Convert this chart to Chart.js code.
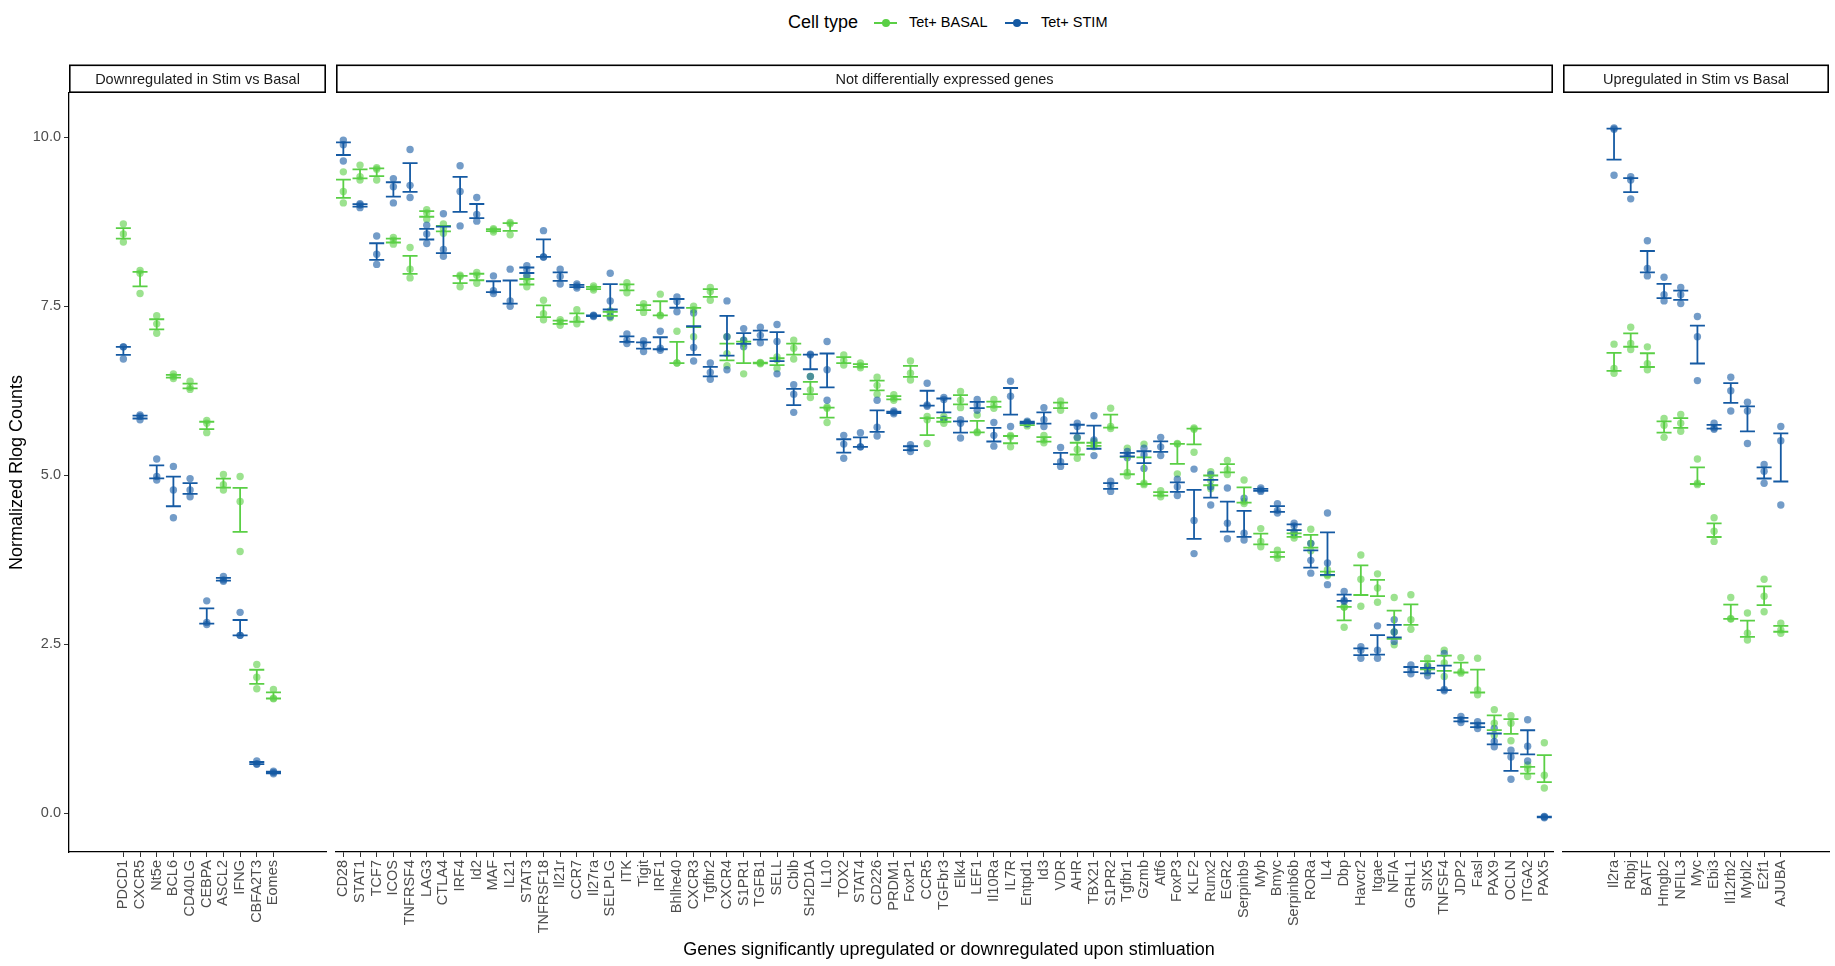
<!DOCTYPE html>
<html>
<head>
<meta charset="utf-8">
<script src="https://cdn.jsdelivr.net/npm/chart.js@4.4.1/dist/chart.umd.min.js"></script>
<style>
  html, body { margin: 0; padding: 0; background: #fff; }
  #fig { position: relative; width: 1835px; height: 966px; overflow: hidden; font-family: 'Liberation Sans', Arial, sans-serif; }
  #fig canvas { position: absolute; top: 0; }
  .lg { position: absolute; top: 10px; height: 25px; line-height: 25px; white-space: nowrap; color: #000; }
  .key { position: absolute; top: 21.5px; width: 23px; height: 2px; }
  .dot { position: absolute; top: 19px; width: 8px; height: 8px; border-radius: 50%; }
  #xtitle { position: absolute; left: 69px; width: 1760px; top: 938px; line-height: 22px; text-align: center; font-size: 18px; color: #000; }
</style>
</head>
<body>
<div id="fig">
  <div class="lg" style="left:788px;font-size:18px">Cell type</div>
  <div class="key" style="left:874px;background:#5ACF45"></div>
  <div class="dot" style="left:882px;background:#5ACF45"></div>
  <div class="lg" style="left:909px;font-size:14.5px">Tet+ BASAL</div>
  <div class="key" style="left:1005px;background:#155AA3"></div>
  <div class="dot" style="left:1013px;background:#155AA3"></div>
  <div class="lg" style="left:1041px;font-size:14.5px">Tet+ STIM</div>
  <canvas id="down" width="346" height="966" style="left:0px"></canvas>
  <canvas id="nde" width="1257" height="966" style="left:316px"></canvas>
  <canvas id="up" width="306" height="966" style="left:1543px"></canvas>
  <div id="xtitle">Genes significantly upregulated or downregulated upon stimluation</div>
</div>
<script>
// colours for the two cell types
const BASAL = '#5ACF45'
const STIM = '#155AA3'

// y axis
const yTicks = [0, 2.5, 5, 7.5, 10]

// --- Downregulated in Stim vs Basal ---
const downGenes = ['PDCD1', 'CXCR5', 'Nt5e', 'BCL6', 'CD40LG', 'CEBPA', 'ASCL2', 'IFNG', 'CBFA2T3', 'Eomes']
const downBasal = [
    [8.72, 8.57, 8.45], [8.03, 7.99, 7.69], [7.36, 7.24, 7.10], [6.50, 6.46, 6.43], [6.39, 6.30, 6.27],
    [5.81, 5.77, 5.63], [5.01, 4.86, 4.78], [4.98, 4.61, 3.87], [2.20, 2.01, 1.84], [1.83, 1.70, 1.69]
]
const downStim = [
    [6.90, 6.90, 6.72], [5.89, 5.87, 5.82], [5.24, 4.98, 4.93], [5.13, 4.78, 4.37], [4.95, 4.78, 4.68],
    [3.14, 2.82, 2.79], [3.50, 3.45, 3.43], [2.97, 2.63, 2.63], [0.77, 0.73, 0.72], [0.62, 0.60, 0.58]
]

// --- Not differentially expressed genes ---
const ndeGenes = [
    'CD28', 'STAT1', 'TCF7', 'ICOS', 'TNFRSF4', 'LAG3', 'CTLA4', 'IRF4', 'Id2', 'MAF',
    'IL21', 'STAT3', 'TNFRSF18', 'Il21r', 'CCR7', 'Il27ra', 'SELPLG', 'ITK', 'Tigit', 'IRF1',
    'Bhlhe40', 'CXCR3', 'Tgfbr2', 'CXCR4', 'S1PR1', 'TGFB1', 'SELL', 'Cblb', 'SH2D1A', 'IL10',
    'TOX2', 'STAT4', 'CD226', 'PRDM1', 'FoxP1', 'CCR5', 'TGFbr3', 'Elk4', 'LEF1', 'Il10Ra',
    'IL7R', 'Entpd1', 'Id3', 'VDR', 'AHR', 'TBX21', 'S1PR2', 'Tgfbr1', 'Gzmb', 'Atf6',
    'FoxP3', 'KLF2', 'Runx2', 'EGR2', 'Serpinb9', 'Myb', 'Bmyc', 'Serpinb6b', 'RORa', 'IL4',
    'Dbp', 'Havcr2', 'Itgae', 'NFIA', 'GRHL1', 'SIX5', 'TNFSF4', 'JDP2', 'Fasl', 'PAX9',
    'OCLN', 'ITGA2', 'PAX5'
]
const ndeBasal = [
    [9.49, 9.20, 9.03], [9.59, 9.42, 9.37], [9.55, 9.53, 9.37], [8.52, 8.48, 8.42], [8.37, 8.05, 7.92],
    [8.93, 8.88, 8.79], [8.72, 8.65, 8.58], [7.96, 7.94, 7.79], [8.00, 7.96, 7.84], [8.65, 8.63, 8.60],
    [8.74, 8.72, 8.56], [7.93, 7.87, 7.79], [7.59, 7.39, 7.30], [7.30, 7.27, 7.22], [7.45, 7.31, 7.24],
    [7.80, 7.77, 7.74], [7.43, 7.40, 7.33], [7.85, 7.79, 7.70], [7.54, 7.49, 7.41], [7.68, 7.37, 7.36],
    [7.13, 6.66, 6.66], [7.50, 7.45, 7.05], [7.78, 7.72, 7.59], [7.05, 6.80, 6.62], [7.00, 6.95, 6.50],
    [6.67, 6.66, 6.65], [6.75, 6.71, 6.58], [7.00, 6.88, 6.72], [6.46, 6.26, 6.15], [6.01, 5.99, 5.78],
    [6.78, 6.70, 6.63], [6.66, 6.62, 6.59], [6.45, 6.33, 6.20], [6.19, 6.14, 6.11], [6.69, 6.51, 6.41],
    [5.87, 5.82, 5.47], [5.87, 5.82, 5.77], [6.24, 6.11, 6.00], [5.89, 5.64, 5.63], [6.12, 6.04, 5.99],
    [5.59, 5.57, 5.42], [5.78, 5.76, 5.73], [5.59, 5.52, 5.48], [6.10, 6.04, 5.96], [5.55, 5.38, 5.25],
    [5.50, 5.45, 5.42], [5.99, 5.72, 5.69], [5.40, 5.04, 4.99], [5.46, 4.88, 4.86], [4.77, 4.72, 4.68],
    [5.47, 5.46, 5.02], [5.70, 5.68, 5.34], [5.05, 4.92, 4.80], [5.22, 5.08, 5.01], [4.93, 4.61, 4.58],
    [4.21, 4.02, 3.94], [3.89, 3.82, 3.77], [4.16, 4.11, 4.07], [4.20, 3.99, 3.88], [3.60, 3.53, 3.51],
    [3.05, 3.05, 2.75], [3.82, 3.46, 3.06], [3.54, 3.33, 3.12], [3.19, 2.68, 2.49], [3.23, 2.86, 2.72],
    [2.29, 2.19, 2.08], [2.41, 2.22, 2.02], [2.30, 2.09, 2.07], [2.29, 1.82, 1.75], [1.53, 1.33, 1.15],
    [1.44, 1.33, 1.07], [0.71, 0.65, 0.54], [1.04, 0.56, 0.37]
]
const ndeStim = [
    [9.96, 9.89, 9.65], [9.02, 9.00, 8.96], [8.54, 8.27, 8.12], [9.39, 9.27, 9.03], [9.82, 9.29, 9.11],
    [8.70, 8.57, 8.43], [8.87, 8.34, 8.24], [9.58, 9.20, 8.69], [9.11, 8.86, 8.76], [7.95, 7.73, 7.69],
    [8.05, 7.58, 7.50], [8.10, 8.04, 7.96], [8.62, 8.23, 8.23], [8.05, 7.94, 7.83], [7.83, 7.80, 7.77],
    [7.37, 7.36, 7.35], [7.99, 7.58, 7.35], [7.09, 7.00, 6.95], [6.99, 6.94, 6.83], [7.13, 6.88, 6.85],
    [7.64, 7.57, 7.42], [7.40, 6.89, 6.69], [6.66, 6.52, 6.42], [7.58, 7.05, 6.56], [7.17, 7.00, 6.90],
    [7.19, 7.07, 6.96], [7.23, 6.98, 6.50], [6.34, 6.20, 5.93], [6.79, 6.78, 6.46], [6.98, 6.56, 6.11],
    [5.59, 5.46, 5.25], [5.63, 5.42, 5.42], [6.11, 5.71, 5.58], [5.95, 5.93, 5.91], [5.45, 5.40, 5.35],
    [6.36, 6.04, 6.02], [6.15, 6.12, 5.83], [5.82, 5.77, 5.55], [6.12, 6.04, 5.96], [5.78, 5.59, 5.43],
    [6.39, 6.17, 5.72], [5.80, 5.78, 5.76], [6.00, 5.82, 5.72], [5.41, 5.20, 5.13], [5.77, 5.72, 5.56],
    [5.88, 5.52, 5.29], [4.91, 4.85, 4.76], [5.35, 5.30, 5.26], [5.40, 5.30, 5.10], [5.56, 5.42, 5.29],
    [4.94, 4.83, 4.70], [5.09, 4.33, 3.84], [5.01, 4.83, 4.56], [4.81, 4.29, 4.06], [4.66, 4.14, 4.04],
    [4.81, 4.78, 4.76], [4.58, 4.48, 4.44], [4.29, 4.25, 4.15], [3.99, 3.74, 3.55], [4.44, 3.70, 3.38],
    [3.28, 3.15, 3.13], [2.46, 2.41, 2.29], [2.77, 2.41, 2.29], [2.86, 2.68, 2.54], [2.19, 2.12, 2.06],
    [2.17, 2.12, 2.03], [2.36, 1.83, 1.81], [1.43, 1.38, 1.34], [1.35, 1.30, 1.25], [1.25, 1.06, 0.98],
    [0.93, 0.83, 0.50], [1.38, 0.99, 0.77], [-0.05, -0.06, -0.07]
]

// --- Upregulated in Stim vs Basal ---
const upGenes = ['Il2ra', 'Rbpj', 'BATF', 'Hmgb2', 'NFIL3', 'Myc', 'Ebi3', 'Il12rb2', 'Mybl2', 'E2f1', 'AJUBA']
const upBasal = [
    [6.94, 6.58, 6.51], [7.19, 6.95, 6.86], [6.90, 6.65, 6.56], [5.84, 5.74, 5.56], [5.90, 5.77, 5.65],
    [5.24, 4.88, 4.86], [4.37, 4.17, 4.02], [3.19, 2.88, 2.87], [2.96, 2.66, 2.56], [3.46, 3.21, 2.98],
    [2.81, 2.71, 2.66]
]
const upStim = [
    [10.14, 10.12, 9.44], [9.42, 9.37, 9.09], [8.47, 8.06, 7.95], [7.93, 7.67, 7.58], [7.78, 7.67, 7.54],
    [7.35, 7.05, 6.40], [5.77, 5.70, 5.68], [6.45, 6.25, 5.95], [6.08, 5.95, 5.47], [5.16, 5.06, 4.88],
    [5.72, 5.51, 4.56]
]

Chart.defaults.font.family = "'Liberation Sans', Arial, sans-serif"

const meanSe = (v) => {
    const m = v.reduce((a, b) => a + b, 0) / v.length
    const sd = Math.sqrt(v.reduce((a, b) => a + (b - m) * (b - m), 0) / (v.length - 1))
    return [m, sd / Math.sqrt(v.length)]
}

const pointData = (reps) => reps.flatMap((r, i) => r.map((y) => ({ x: i, y })))

// errorbar = top cap, stem, bottom cap, split by gaps
const errorData = (reps) => reps.flatMap((r, i) => {
    const [m, se] = meanSe(r)
    const hi = m + se
    const lo = m - se
    const w = 0.45
    return [
        { x: i - w, y: hi }, { x: i + w, y: hi }, { x: i, y: null },
        { x: i, y: hi }, { x: i, y: lo }, { x: i, y: null },
        { x: i - w, y: lo }, { x: i + w, y: lo }, { x: i, y: null }
    ]
})

const stripPlugin = {
    id: 'strip',
    afterDraw(chart, args, opts) {
        const { ctx, chartArea } = chart
        const top = 64.5
        const lw = 1.6
        ctx.save()
        ctx.fillStyle = '#fff'
        ctx.fillRect(chartArea.left, top, chartArea.right - chartArea.left, chartArea.top - top)
        ctx.strokeStyle = '#000'
        ctx.lineWidth = lw
        ctx.strokeRect(chartArea.left + lw / 2, top + lw / 2,
            chartArea.right - chartArea.left - lw, chartArea.top - top - lw)
        ctx.fillStyle = '#1a1a1a'
        ctx.font = "14.5px 'Liberation Sans', Arial, sans-serif"
        ctx.textAlign = 'center'
        ctx.textBaseline = 'middle'
        ctx.fillText(opts.text, (chartArea.left + chartArea.right) / 2, (top + chartArea.top) / 2 + 1)
        ctx.restore()
    }
}

const rgba = (hex, a) => {
    const n = parseInt(hex.slice(1), 16)
    return `rgba(${n >> 16}, ${(n >> 8) & 255}, ${n & 255}, ${a})`
}

// side = spare canvas width kept left/right of the panel
const makePanel = (id, genes, basal, stim, strip, xmin, xmax, showY, side) => {
    const yAxis = {
        display: showY,
        min: -0.577,
        max: 10.657,
        afterBuildTicks: (axis) => { axis.ticks = yTicks.map((v) => ({ value: v })) },
        grid: { drawOnChartArea: false, drawTicks: true, tickLength: 5, color: '#333' },
        border: { display: true, color: '#000', width: 1.3 },
        ticks: {
            padding: 3, color: '#4d4d4d', font: { size: 14.5 },
            callback: (v) => v.toFixed(1)
        },
        title: {
            display: true, text: 'Normalized Rlog Counts', color: '#000',
            font: { size: 18 }, padding: { top: 6, bottom: 0 }
        }
    }
    if (showY) yAxis.afterFit = (axis) => { axis.width = 69 }

    return new Chart(document.getElementById(id), {
        type: 'scatter',
        data: {
            datasets: [
                {
                    label: 'Tet+ STIM err', data: errorData(stim), showLine: true,
                    borderColor: STIM, borderWidth: 1.8, pointRadius: 0, spanGaps: false, order: 0
                },
                {
                    label: 'Tet+ BASAL err', data: errorData(basal), showLine: true,
                    borderColor: BASAL, borderWidth: 1.8, pointRadius: 0, spanGaps: false, order: 1
                },
                {
                    label: 'Tet+ STIM', data: pointData(stim), pointRadius: 3.7, borderWidth: 0,
                    backgroundColor: rgba(STIM, 0.6), order: 2
                },
                {
                    label: 'Tet+ BASAL', data: pointData(basal), pointRadius: 3.7, borderWidth: 0,
                    backgroundColor: rgba(BASAL, 0.6), order: 3
                }
            ]
        },
        options: {
            responsive: false,
            animation: false,
            events: [],
            layout: { padding: { top: 93, bottom: 0, left: showY ? 0 : side, right: side } },
            plugins: {
                legend: { display: false },
                tooltip: { enabled: false },
                strip: { text: strip }
            },
            scales: {
                x: {
                    type: 'linear',
                    min: xmin,
                    max: xmax,
                    afterBuildTicks: (axis) => { axis.ticks = genes.map((g, i) => ({ value: i })) },
                    afterFit: (axis) => { axis.height = 114 },
                    grid: { drawOnChartArea: false, drawTicks: true, tickLength: 5, color: '#333' },
                    border: { display: true, color: '#000', width: 1.3 },
                    ticks: {
                        autoSkip: false, maxRotation: 90, minRotation: 90, padding: 3,
                        color: '#4d4d4d', font: { size: 14.5 },
                        callback: (v) => genes[v]
                    }
                },
                y: yAxis
            }
        },
        plugins: [stripPlugin]
    })
}

makePanel('down', downGenes, downBasal, downStim, 'Downregulated in Stim vs Basal', -3.26, 12.15, true, 20)
makePanel('nde', ndeGenes, ndeBasal, ndeStim, 'Not differentially expressed genes', -0.44, 72.52, false, 20)
makePanel('up', upGenes, upBasal, upStim, 'Upregulated in Stim vs Basal', -3.06, 12.89, false, 20)
</script>
</body>
</html>
